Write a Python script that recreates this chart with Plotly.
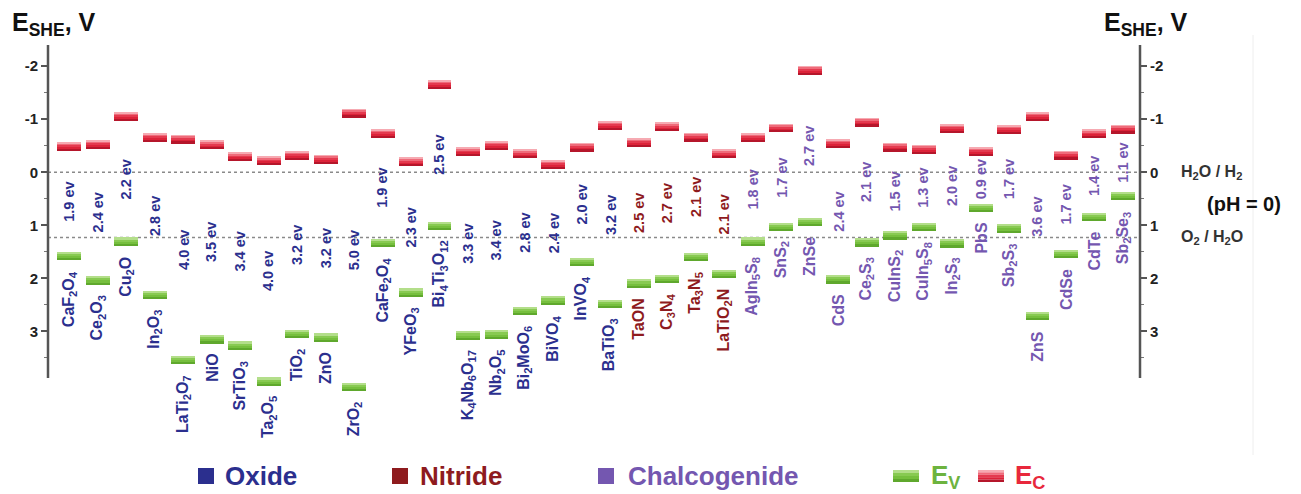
import plotly.graph_objects as go

# Photocatalyst band edges vs. SHE
materials = [
    "CaF<sub>2</sub>O<sub>4</sub>", "Ce<sub>2</sub>O<sub>3</sub>", "Cu<sub>2</sub>O",
    "In<sub>2</sub>O<sub>3</sub>", "LaTi<sub>2</sub>O<sub>7</sub>", "NiO",
    "SrTiO<sub>3</sub>", "Ta<sub>2</sub>O<sub>5</sub>", "TiO<sub>2</sub>", "ZnO",
    "ZrO<sub>2</sub>", "CaFe<sub>2</sub>O<sub>4</sub>", "YFeO<sub>3</sub>",
    "Bi<sub>4</sub>Ti<sub>3</sub>O<sub>12</sub>", "K<sub>4</sub>Nb<sub>6</sub>O<sub>17</sub>",
    "Nb<sub>2</sub>O<sub>5</sub>", "Bi<sub>2</sub>MoO<sub>6</sub>", "BiVO<sub>4</sub>",
    "InVO<sub>4</sub>", "BaTiO<sub>3</sub>",
    "TaON", "C<sub>3</sub>N<sub>4</sub>", "Ta<sub>3</sub>N<sub>5</sub>", "LaTiO<sub>2</sub>N",
    "AgIn<sub>5</sub>S<sub>8</sub>", "SnS<sub>2</sub>", "ZnSe", "CdS",
    "Ce<sub>2</sub>S<sub>3</sub>", "CuInS<sub>2</sub>", "CuIn<sub>5</sub>S<sub>8</sub>",
    "In<sub>2</sub>S<sub>3</sub>", "PbS", "Sb<sub>2</sub>S<sub>3</sub>", "ZnS", "CdSe",
    "CdTe", "Sb<sub>2</sub>Se<sub>3</sub>",
]
groups = (["Oxide"] * 20) + (["Nitride"] * 4) + (["Chalcogenide"] * 14)

# conduction band edge (V vs SHE)
ec = [
    -0.40, -0.44, -0.97, -0.57, -0.54, -0.43, -0.21, -0.13, -0.23, -0.16,
    -1.03, -0.65, -0.11, -1.57, -0.30, -0.42, -0.26, -0.06, -0.39, -0.80,
    -0.48, -0.77, -0.58, -0.26,
    -0.57, -0.75, -1.84, -0.46, -0.86, -0.39, -0.35, -0.74, -0.31, -0.72,
    -0.97, -0.24, -0.64, -0.73,
]
# band gap (eV)
gap = [
    1.9, 2.4, 2.2, 2.8, 4.0, 3.5, 3.4, 4.0, 3.2, 3.2,
    5.0, 1.9, 2.3, 2.5, 3.3, 3.4, 2.8, 2.4, 2.0, 3.2,
    2.5, 2.7, 2.1, 2.1,
    1.8, 1.7, 2.7, 2.4, 2.1, 1.5, 1.3, 2.0, 0.9, 1.7,
    3.6, 1.7, 1.4, 1.1,
]
ev = [c + g for c, g in zip(ec, gap)]

y_ticks = [-2, -1, 0, 1, 2, 3]
y_tick_text = ["-2", "-1", "0", "1", "2", "3"]
axis_span = [-2.4, 3.88]          # extent of the drawn potential axis
water_levels = [0.0, 1.23]

group_colors = {"Oxide": "#2b2f8e", "Nitride": "#8e1b1e", "Chalcogenide": "#7457b0"}
red_shades = ["#f6aab2", "#ef6b7a", "#e43a4f", "#dc2339", "#b5162b"]
green_shades = ["#b3de8a", "#88ca52", "#76bf3e", "#5fa82d"]

FONT = "Arial, Liberation Sans, sans-serif"
BAND = 0.16
N = len(materials)
idx = list(range(N))

# plot-area geometry (pixels); the area runs a little below the axis end so
# the deepest valence bands stay visible
L, R, T, B = 48, 1140, 45, 400
PX_PER_V = 333 / (axis_span[1] - axis_span[0])
y_low = axis_span[0] + (B - T) / PX_PER_V

fig = go.Figure()

# conduction band bars extend upward from E_C, shaded light-to-dark
nr = len(red_shades)
for k, col in enumerate(red_shades):
    fig.add_bar(
        x=idx, y=[BAND / nr] * N,
        base=[c - BAND + k * BAND / nr for c in ec],
        width=0.84, marker=dict(color=col, line_width=0),
        hoverinfo="skip", showlegend=False,
    )
# valence band bars extend downward from E_V
ng = len(green_shades)
for k, col in enumerate(green_shades):
    fig.add_bar(
        x=idx, y=[BAND / ng] * N,
        base=[v + k * BAND / ng for v in ev],
        width=0.84, marker=dict(color=col, line_width=0),
        hoverinfo="skip", showlegend=False,
    )
# carrier for the right-hand axis
fig.add_scatter(x=[0], y=[0], yaxis="y2", mode="markers",
                marker=dict(opacity=0), hoverinfo="skip", showlegend=False)

annotations = []
for i in idx:
    color = group_colors[groups[i]]
    annotations.append(dict(
        x=i, y=(ec[i] + ev[i]) / 2, xref="x", yref="y",
        text=f"{gap[i]:.1f} ev", textangle=-90, showarrow=False,
        font=dict(family=FONT, size=14.5, color=color, weight="bold"),
        xanchor="center", yanchor="middle",
    ))
    annotations.append(dict(
        x=i, y=ev[i] + BAND + 0.16, xref="x", yref="y",
        text=materials[i], textangle=-90, showarrow=False,
        font=dict(family=FONT, size=16, color=color, weight="bold"),
        xanchor="center", yanchor="top",
    ))


def px(xp):
    return (xp - L) / (R - L)


def py(yp):
    return (B - yp) / (B - T)


title_font = dict(family=FONT, size=25, color="#111", weight="bold")
annotations += [
    dict(x=px(10), y=py(24), xref="paper", yref="paper", text="E<sub>SHE</sub>, V",
         showarrow=False, xanchor="left", yanchor="middle", font=title_font),
    dict(x=px(1102), y=py(24), xref="paper", yref="paper", text="E<sub>SHE</sub>, V",
         showarrow=False, xanchor="left", yanchor="middle", font=title_font),
]
side_font = dict(family=FONT, size=16, color="#333", weight="bold")
annotations += [
    dict(x=px(1179), y=water_levels[0], xref="paper", yref="y",
         text="H<sub>2</sub>O / H<sub>2</sub>", showarrow=False,
         xanchor="left", yanchor="middle", font=side_font),
    dict(x=px(1205), y=0.6, xref="paper", yref="y", text="(pH = 0)", showarrow=False,
         xanchor="left", yanchor="middle",
         font=dict(family=FONT, size=20, color="#111", weight="bold")),
    dict(x=px(1179), y=water_levels[1], xref="paper", yref="y",
         text="O<sub>2</sub> / H<sub>2</sub>O", showarrow=False,
         xanchor="left", yanchor="middle", font=side_font),
]

# legend row
legend_y = 476
legend_font = 26
shapes = []
for label, sq_x, tx in [("Oxide", 198, 223), ("Nitride", 392, 418), ("Chalcogenide", 598, 626)]:
    c = group_colors[label]
    shapes.append(dict(type="rect", xref="paper", yref="paper",
                       x0=px(sq_x), x1=px(sq_x + 16), y0=py(legend_y + 8), y1=py(legend_y - 8),
                       fillcolor=c, line_width=0))
    annotations.append(dict(x=px(tx), y=py(legend_y), xref="paper", yref="paper", text=label,
                            showarrow=False, xanchor="left", yanchor="middle",
                            font=dict(family=FONT, size=legend_font, color=c, weight="bold")))
for shades, x0, tx, txt, tc in [
    (green_shades, 893, 929, "E<sub>V</sub>", "#6db33f"),
    (red_shades, 978, 1013, "E<sub>C</sub>", "#e8283c"),
]:
    h = 12 / len(shades)
    for k, col in enumerate(shades):
        top = legend_y - 6 + k * h
        shapes.append(dict(type="rect", xref="paper", yref="paper",
                           x0=px(x0), x1=px(x0 + 26), y0=py(top + h), y1=py(top),
                           fillcolor=col, line_width=0))
    annotations.append(dict(x=px(tx), y=py(legend_y), xref="paper", yref="paper", text=txt,
                            showarrow=False, xanchor="left", yanchor="middle",
                            font=dict(family=FONT, size=legend_font, color=tc, weight="bold")))

# water redox reference lines
for lvl in water_levels:
    shapes.append(dict(type="line", xref="paper", yref="y", x0=0, x1=1, y0=lvl, y1=lvl,
                       line=dict(color="#8a8a8a", width=1.5, dash="dot"), layer="below"))
# left and right potential axis lines, ending at the axis span
for xp in (0, 1):
    shapes.append(dict(type="line", xref="paper", yref="y", x0=xp, x1=xp,
                       y0=axis_span[0], y1=axis_span[1],
                       line=dict(color="#555", width=2.5)))
# faint frame edge on the right
shapes.append(dict(type="line", xref="paper", yref="paper", x0=px(1253), x1=px(1253),
                   y0=py(455), y1=py(35), line=dict(color="#eeeeee", width=1)))

yaxis_common = dict(
    range=[y_low, axis_span[0]], tickmode="array", tickvals=y_ticks, ticktext=y_tick_text,
    showline=False, ticks="outside", ticklen=6,
    tickwidth=1.5, tickcolor="#555", showgrid=False, zeroline=False,
    tickfont=dict(family=FONT, size=15, color="#222", weight="bold"),
    minor=dict(tickmode="array", tickvals=[-1.5, -0.5, 0.5, 1.5, 2.5, 3.5],
               ticks="outside", ticklen=3, tickcolor="#777", tickwidth=1),
)

fig.update_layout(
    width=1301, height=494, autosize=False,
    margin=dict(l=L, r=1301 - R, t=T, b=494 - B),
    paper_bgcolor="white", plot_bgcolor="white",
    barmode="overlay", bargap=0,
    xaxis=dict(range=[-0.75, 37.6], showgrid=False, zeroline=False,
               showticklabels=False, showline=False, ticks=""),
    yaxis=dict(**yaxis_common, side="left"),
    yaxis2=dict(**yaxis_common, side="right", overlaying="y", anchor="x"),
    annotations=annotations, shapes=shapes,
    showlegend=False,
)

fig.write_html("out.html")
